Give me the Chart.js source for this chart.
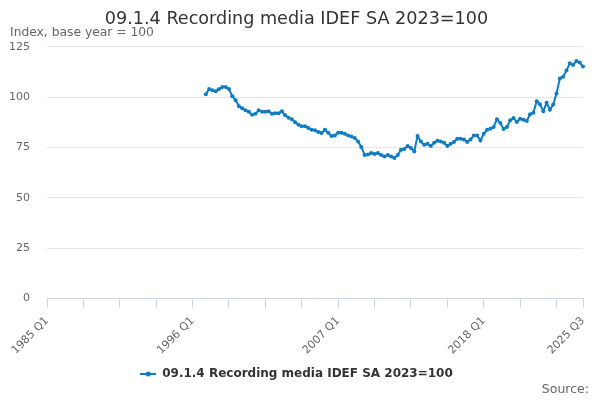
<!DOCTYPE html>
<html>
<head>
<meta charset="utf-8">
<script src="https://cdn.jsdelivr.net/npm/chart.js@4"></script>
<style>
html, body { margin: 0; padding: 0; background: #fff; }
#wrap { width: 600px; height: 400px; position: relative; }
</style>
</head>
<body>
<div id="wrap"><canvas id="chart"></canvas></div>
<script>
// quarterly categories 1985 Q1 .. 2025 Q3
var firstYear = 1985;
var lastYear = 2025;
var lastQuarter = 3;
var quarters = [];
for (var yr = firstYear; yr <= lastYear; yr++) {
    for (var q = 1; q <= 4; q++) {
        if (yr === lastYear && q > lastQuarter) break;
        quarters.push(yr + ' Q' + q);
    }
}

// series starts in 1997 Q1
var seriesStart = '1997 Q1';
var seriesLabel = '09.1.4 Recording media IDEF SA 2023=100';
var indexValues = [
    101.5, 104, 103.5, 103,     // 1997
    104, 105, 105, 104,         // 1998
    100.5, 98.5, 95.5, 94.5,    // 1999
    93.5, 92.7, 91.3, 91.7,     // 2000
    93.5, 92.7, 92.7, 93,       // 2001
    91.7, 92, 92, 93,           // 2002
    91, 89.8, 89, 87.5,         // 2003
    86.3, 85.5, 85.5, 84.7,     // 2004
    83.8, 83.5, 82.7, 82.2,     // 2005
    83.8, 82.3, 80.7, 81,       // 2006
    82.3, 82.3, 81.8, 81,       // 2007
    80.5, 79.7, 78, 75.2,       // 2008
    71.3, 71.5, 72.3, 71.8,     // 2009
    72.2, 71.3, 70.5, 71.3,     // 2010
    70.5, 69.7, 71.3, 73.8,     // 2011
    74.2, 75.7, 74.7, 73,       // 2012
    80.7, 78, 76.3, 76.8,       // 2013
    75.7, 77.3, 78.3, 78,       // 2014
    77.3, 75.7, 76.8, 77.7,     // 2015
    79.3, 79.3, 79, 77.7,       // 2016
    79, 81, 81, 78.5,           // 2017
    81.8, 83.8, 84.3, 85.2,     // 2018
    89, 87.2, 84.2, 85.2,       // 2019
    88.5, 89.7, 87.7, 89.3,     // 2020
    88.8, 88.2, 91.5, 92.2,     // 2021
    98, 96.5, 93, 97.2,         // 2022
    93.8, 96.3, 101.8, 109.3,   // 2023
    110.2, 113.2, 116.8, 116,   // 2024
    118, 117.2, 115.2           // 2025
];

var tickLabels = ['1985 Q1', '1996 Q1', '2007 Q1', '2018 Q1', '2025 Q3'];
var tickStep = 11;
var yTicks = [0, 25, 50, 75, 100, 125];

var startIdx = quarters.indexOf(seriesStart);
var seriesData = quarters.map(function (lbl, i) {
    return i < startIdx ? null : indexValues[i - startIdx];
});

var lineColor = '#0f7dc2';
var fontFamily = '"DejaVu Sans", sans-serif';

// legend symbol: short line with a dot
var legendIcon = document.createElement('canvas');
legendIcon.width = 16;
legendIcon.height = 8;
var lctx = legendIcon.getContext('2d');
lctx.strokeStyle = lineColor;
lctx.lineWidth = 2;
lctx.beginPath();
lctx.moveTo(0, 4);
lctx.lineTo(16, 4);
lctx.stroke();
lctx.fillStyle = lineColor;
lctx.beginPath();
lctx.arc(8, 4, 2.5, 0, Math.PI * 2);
lctx.fill();

var sourcePlugin = {
    id: 'sourceText',
    afterDraw: function (chart) {
        var ctx = chart.ctx;
        ctx.save();
        ctx.font = '12.5px ' + fontFamily;
        ctx.fillStyle = '#666';
        ctx.textAlign = 'right';
        ctx.textBaseline = 'middle';
        ctx.fillText('Source:', 589, 390);
        ctx.restore();
    }
};

var canvas = document.getElementById('chart');
var chart = new Chart(canvas, {
    type: 'line',
    data: {
        labels: quarters,
        datasets: [{
            label: seriesLabel,
            data: seriesData,
            borderColor: lineColor,
            backgroundColor: lineColor,
            borderWidth: 2,
            pointRadius: 2,
            pointBorderWidth: 0,
            pointBackgroundColor: lineColor,
            tension: 0,
            spanGaps: false
        }]
    },
    options: {
        responsive: true,
        maintainAspectRatio: false,
        animation: false,
        layout: {
            padding: { left: 10, right: 17, top: 0, bottom: 10 }
        },
        plugins: {
            title: {
                display: true,
                text: seriesLabel,
                color: '#333',
                font: { family: fontFamily, size: 17.6, weight: 'normal' },
                padding: { top: 9, bottom: -5 }
            },
            subtitle: {
                display: true,
                text: 'Index, base year = 100',
                align: 'start',
                color: '#666',
                font: { family: fontFamily, size: 12.3, weight: 'normal' },
                padding: { top: 0, bottom: 7 }
            },
            legend: {
                display: true,
                position: 'bottom',
                labels: {
                    usePointStyle: true,
                    pointStyleWidth: 16,
                    padding: 5,
                    color: '#333',
                    font: { family: fontFamily, size: 12, weight: 'bold' },
                    generateLabels: function (chart) {
                        return [{
                            text: seriesLabel,
                            fillStyle: lineColor,
                            strokeStyle: lineColor,
                            lineWidth: 0,
                            pointStyle: legendIcon,
                            hidden: false,
                            datasetIndex: 0,
                            fontColor: '#333'
                        }];
                    }
                }
            },
            tooltip: { enabled: false }
        },
        scales: {
            x: {
                type: 'category',
                offset: false,
                afterFit: function (scale) {
                    scale.paddingLeft = 0;
                    scale.paddingRight = 0;
                },
                grid: {
                    display: true,
                    drawOnChartArea: false,
                    drawTicks: true,
                    tickLength: 10,
                    tickColor: function (ctx) {
                        return (ctx.index % tickStep === 0 || ctx.index === quarters.length - 1) ? '#ccd6eb' : 'rgba(0,0,0,0)';
                    }
                },
                border: { display: true, color: '#ccd6eb', width: 1 },
                ticks: {
                    autoSkip: false,
                    maxRotation: 45,
                    minRotation: 45,
                    color: '#666',
                    padding: 6,
                    font: { family: fontFamily, size: 11 },
                    callback: function (value, index) {
                        var lbl = quarters[index];
                        return tickLabels.indexOf(lbl) >= 0 ? lbl : '';
                    }
                }
            },
            y: {
                min: 0,
                max: 125,
                afterBuildTicks: function (scale) {
                    scale.ticks = yTicks.map(function (v) { return { value: v }; });
                },
                afterFit: function (scale) {
                    scale.width = 37;
                },
                grid: { color: '#e6e6e6', drawTicks: false },
                border: { display: false },
                ticks: {
                    color: '#666',
                    padding: 17,
                    font: { family: fontFamily, size: 11 }
                }
            }
        }
    },
    plugins: [sourcePlugin]
});
</script>
</body>
</html>
